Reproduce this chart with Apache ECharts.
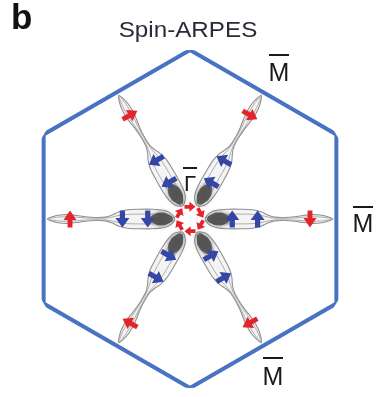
<!DOCTYPE html>
<html>
<head>
<meta charset="utf-8">
<script src="https://cdn.jsdelivr.net/npm/echarts@6/dist/echarts.min.js"></script>
<style>
  html, body { margin: 0; padding: 0; background: #ffffff; }
  #chart { width: 376px; height: 397px; }
</style>
</head>
<body>
<div id="chart"></div>
<script>
// Surface Brillouin zone boundary, polar [radius, angle in degrees]; radius 1 = zone corner
const zoneCorners = [[1, 90], [1, 30], [1, 330], [1, 270], [1, 210], [1, 150], [1, 90]];
// Directions of the six Fermi-surface petals (toward the M̄ points)
const spokeAngles = [0, 60, 120, 180, 240, 300];
// Radial positions of the measured spins along each petal
const innerSpinRadii = [0.25, 0.40];   // blue, counter-clockwise
const outerSpinRadius = 0.71;          // red, clockwise
// Ring of spins around Γ̄
const ringRadius = 0.072;
const ringAngles = [90, 30, 330, 270, 210, 150];
// Petal contour: radial station and half width
const petalR = [0.09, 0.12, 0.16, 0.22, 0.30, 0.37, 0.42, 0.46, 0.50, 0.56, 0.62, 0.67, 0.72, 0.77, 0.81, 0.845];
const petalW = [0.0, 0.038, 0.052, 0.058, 0.058, 0.055, 0.043, 0.024, 0.011, 0.009, 0.013, 0.021, 0.026, 0.024, 0.015, 0.0];
// Dark intensity spot at the inner end of each petal
const spotR = [0.10, 0.13, 0.17, 0.21, 0.24];
const spotW = [0.0, 0.028, 0.038, 0.028, 0.0];

const ZONE = '#4873c2', BLUE = '#3446a6', RED = '#e4232b';
const ARROW = 'path://M-2.8,9 L2.8,9 L2.8,1 L7.5,1 L0,-9 L-7.5,1 L-2.8,1 Z';

const wrap = a => ((a % 360) + 360) % 360;

function renderPetal(params, api) {
  const a = api.value(1);
  const pt = (r, w) => api.coord([Math.hypot(r, w), wrap(a + Math.atan2(w, r) * 180 / Math.PI)]);
  const outline = (rs, ws, k) => {
    const top = rs.map((r, i) => pt(r, ws[i] * k));
    const bot = [];
    for (let i = rs.length - 2; i >= 1; i--) bot.push(pt(rs[i], -ws[i] * k));
    return top.concat(bot);
  };
  return {
    type: 'group',
    children: [
      { type: 'polygon', shape: { points: outline(petalR, petalW, 1), smooth: 0.3 },
        style: { fill: 'rgba(236,236,236,0.6)', stroke: '#8f8f8f', lineWidth: 1.1 } },
      { type: 'polygon', shape: { points: outline(petalR, petalW, 0.5), smooth: 0.3 },
        style: { fill: 'none', stroke: '#a6a6a6', lineWidth: 0.9 } },
      { type: 'polygon', shape: { points: outline(spotR, spotW, 1), smooth: 0.5 },
        style: { fill: 'rgba(68,68,68,0.8)', shadowBlur: 5, shadowColor: 'rgba(68,68,68,0.7)' } }
    ]
  };
}

const blueSpins = [];
spokeAngles.forEach(a => innerSpinRadii.forEach(r => blueSpins.push({ value: [r, a], symbolRotate: a })));
const redSpins = spokeAngles.map(a => ({ value: [outerSpinRadius, a], symbolRotate: a - 180 }));
const ringSpins = ringAngles.map(t => ({ value: [ringRadius, t], symbolRotate: t - 180 }));

function barLabel(text, cx, cy, size, barHalf, barY) {
  return [
    { type: 'text', x: cx, y: cy + 0.05 * size, z: 20,
      style: { text: text, font: size + 'px "Liberation Sans", Arial, sans-serif', fill: '#1a1a1a',
               align: 'center', verticalAlign: 'middle', textAlign: 'center', textVerticalAlign: 'middle' } },
    { type: 'line', z: 20, shape: { x1: cx - barHalf, y1: barY, x2: cx + barHalf, y2: barY },
      style: { stroke: '#1a1a1a', lineWidth: 2 } }
  ];
}

const chart = echarts.init(document.getElementById('chart'), null, { renderer: 'canvas' });
chart.setOption({
  animation: false,
  backgroundColor: '#ffffff',
  polar: { center: [190, 219], radius: 169 },
  angleAxis: { type: 'value', min: 0, max: 360, startAngle: 0, clockwise: false, show: false,
               axisLine: { show: false }, splitLine: { show: false }, axisLabel: { show: false }, axisTick: { show: false } },
  radiusAxis: { type: 'value', min: 0, max: 1, show: false,
                axisLine: { show: false }, splitLine: { show: false }, axisLabel: { show: false }, axisTick: { show: false } },
  graphic: [
    { type: 'text', x: 11, y: 19, z: 20,
      style: { text: 'b', font: 'bold 35px "Liberation Sans", Arial, sans-serif', fill: '#111111',
               align: 'left', verticalAlign: 'middle', textAlign: 'left', textVerticalAlign: 'middle' } },
    { type: 'text', x: 188, y: 31, z: 20, scaleX: 1.1,
      style: { text: 'Spin-ARPES', font: '22px "Liberation Sans", Arial, sans-serif', fill: '#2a2a38',
               align: 'center', verticalAlign: 'middle', textAlign: 'center', textVerticalAlign: 'middle' } },
    ...barLabel('M', 279, 72.5, 25, 10, 55),
    ...barLabel('M', 363, 224, 25, 10, 207),
    ...barLabel('M', 273, 377, 25, 10, 358),
    ...barLabel('Γ', 190, 184, 22, 7, 168)
  ],
  series: [
    { type: 'line', coordinateSystem: 'polar', data: zoneCorners, symbol: 'none', silent: true, z: 1,
      lineStyle: { color: ZONE, width: 4, join: 'miter' } },
    { type: 'custom', coordinateSystem: 'polar', z: 2, silent: true,
      data: spokeAngles.map(a => [0, a]), renderItem: renderPetal },
    { type: 'scatter', coordinateSystem: 'polar', z: 5, silent: true,
      data: blueSpins, symbol: ARROW, symbolSize: [14, 17], itemStyle: { color: BLUE, opacity: 1 } },
    { type: 'scatter', coordinateSystem: 'polar', z: 5, silent: true,
      data: redSpins, symbol: ARROW, symbolSize: [13, 17], itemStyle: { color: RED, opacity: 1 } },
    { type: 'scatter', coordinateSystem: 'polar', z: 6, silent: true,
      data: ringSpins, symbol: ARROW, symbolSize: [10, 11], itemStyle: { color: RED, opacity: 1 } }
  ]
});
</script>
</body>
</html>
